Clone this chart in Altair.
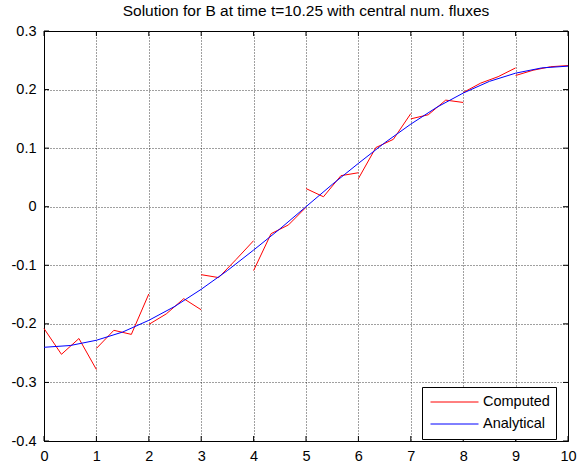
import altair as alt
import pandas as pd

# ---- data -------------------------------------------------------------
# Computed DG solution: one short polyline per unit element [k, k+1]
element_starts = [0, 1, 2, 3, 4, 5, 6, 7, 8, 9]
node_offsets = [0.0, 1 / 3, 2 / 3, 1.0]
computed_vals = [
    [-0.208, -0.252, -0.225, -0.278],
    [-0.242, -0.211, -0.218, -0.149],
    [-0.201, -0.183, -0.157, -0.176],
    [-0.116, -0.121, -0.090, -0.058],
    [-0.109, -0.046, -0.031, -0.001],
    [0.031, 0.017, 0.053, 0.058],
    [0.048, 0.101, 0.115, 0.159],
    [0.150, 0.157, 0.182, 0.178],
    [0.195, 0.211, 0.222, 0.237],
    [0.224, 0.233, 0.239, 0.241],
]

# Analytical solution samples
analytic_x = [0, 0.5, 1, 1.5, 2, 2.5, 3, 3.5, 4, 4.5, 5,
              5.5, 6, 6.5, 7, 7.5, 8, 8.5, 9, 9.5, 10]
analytic_y = [-0.240, -0.237, -0.228, -0.214, -0.194, -0.170, -0.141,
              -0.109, -0.074, -0.038, 0.000, 0.038, 0.074, 0.109,
              0.141, 0.170, 0.194, 0.214, 0.228, 0.237, 0.240]

x_ticks = [0, 1, 2, 3, 4, 5, 6, 7, 8, 9, 10]
y_ticks = [-0.4, -0.3, -0.2, -0.1, 0, 0.1, 0.2, 0.3]

series_names = ["Computed", "Analytical"]
series_colors = ["#ff0000", "#0000ff"]

title_text = "Solution for B at time t=10.25 with central num. fluxes"

# ---- tables -----------------------------------------------------------
rows = []
for e, (x0, vals) in enumerate(zip(element_starts, computed_vals)):
    for off, v in zip(node_offsets, vals):
        rows.append({"x": x0 + off, "y": v, "elem": e, "series": "Computed"})
comp_df = pd.DataFrame(rows)
ana_df = pd.DataFrame({"x": analytic_x, "y": analytic_y, "series": "Analytical"})
xt_df = pd.DataFrame({"x": x_ticks})
yt_df = pd.DataFrame({"y": y_ticks})

W, H = 524, 410
FONT = "Liberation Sans"
MINUS_FIX = "replace(datum.label, '\u2212', '-')"

xs = alt.Scale(domain=[0, 10], nice=False, zero=False)
ys = alt.Scale(domain=[-0.4, 0.3], nice=False, zero=False)

x_axis = alt.Axis(values=x_ticks, title=None, grid=True, ticks=False, format="d",
                  labelPadding=8, labelFlush=False, labelOverlap=False)
y_axis = alt.Axis(values=y_ticks, title=None, grid=True, ticks=False, format="~g",
                  labelPadding=8, labelFlush=False, labelOverlap=False,
                  labelExpr=MINUS_FIX)

color = alt.Color(
    "series:N",
    scale=alt.Scale(domain=series_names, range=series_colors),
    legend=alt.Legend(
        title=None, orient="none", legendX=378, legendY=356,
        symbolType="stroke", symbolSize=2304, symbolStrokeWidth=1,
        labelFont=FONT, labelFontSize=14.5, labelColor="black",
        strokeColor="black", fillColor="white", cornerRadius=0,
        padding=6, clipHeight=18, rowPadding=4, symbolOffset=2, labelOffset=4,
        labelExpr="datum.label + '\u00a0\u00a0'",
    ),
)

computed = alt.Chart(comp_df).mark_line(strokeWidth=1).encode(
    x=alt.X("x:Q", scale=xs, axis=x_axis),
    y=alt.Y("y:Q", scale=ys, axis=y_axis),
    color=color,
    detail="elem:N",
)

analytical = alt.Chart(ana_df).mark_line(strokeWidth=1).encode(
    x=alt.X("x:Q", scale=xs),
    y=alt.Y("y:Q", scale=ys),
    color=color,
)

# inward tick marks on all four sides
tick_bottom = alt.Chart(xt_df).mark_rule(color="black", strokeWidth=1).encode(
    x=alt.X("x:Q", scale=xs), y=alt.value(H), y2=alt.value(H - 5))
tick_top = alt.Chart(xt_df).mark_rule(color="black", strokeWidth=1).encode(
    x=alt.X("x:Q", scale=xs), y=alt.value(0), y2=alt.value(5))
tick_left = alt.Chart(yt_df).mark_rule(color="black", strokeWidth=1).encode(
    y=alt.Y("y:Q", scale=ys), x=alt.value(0), x2=alt.value(5))
tick_right = alt.Chart(yt_df).mark_rule(color="black", strokeWidth=1).encode(
    y=alt.Y("y:Q", scale=ys), x=alt.value(W), x2=alt.value(W - 5))

chart = alt.layer(
    computed, analytical, tick_bottom, tick_top, tick_left, tick_right
).properties(
    width=W, height=H,
    title=alt.TitleParams(title_text, font=FONT, fontSize=15.5, fontWeight="normal",
                          color="black", anchor="middle", offset=4),
    autosize=alt.AutoSizeParams(type="none"),
    padding={"left": 44, "top": 31, "right": 20, "bottom": 29},
    background="white",
).configure_view(
    stroke="black", strokeWidth=1,
).configure_axis(
    domainColor="black", domainWidth=1,
    labelFont=FONT, labelFontSize=14.5, labelColor="black",
    gridColor="black", gridDash=[1, 2], gridOpacity=0.75, gridWidth=1,
)

chart.save("out.html", embed_options={"renderer": "svg", "actions": False})
